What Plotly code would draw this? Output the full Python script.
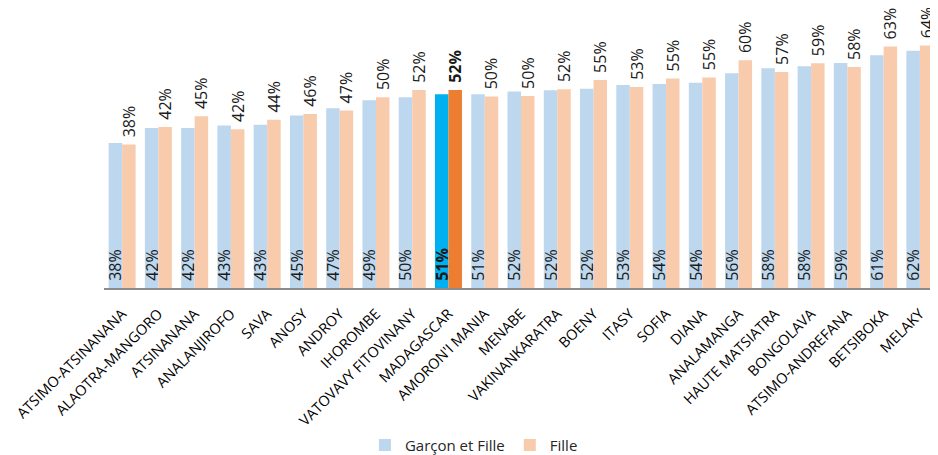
import plotly.graph_objects as go

categories = ["ATSIMO-ATSINANANA", "ALAOTRA-MANGORO", "ATSINANANA", "ANALANJIROFO", "SAVA",
              "ANOSY", "ANDROY", "IHOROMBE", "VATOVAVY FITOVINANY", "MADAGASCAR",
              "AMORON'I MANIA", "MENABE", "VAKINANKARATRA", "BOENY", "ITASY", "SOFIA",
              "DIANA", "ANALAMANGA", "HAUTE MATSIATRA", "BONGOLAVA", "ATSIMO-ANDREFANA",
              "BETSIBOKA", "MELAKY"]
garcon_fille = [38.1, 42.0, 42.0, 42.7, 42.9, 45.3, 47.2, 49.3, 50.1, 50.9,
                50.9, 51.6, 51.9, 52.3, 53.3, 53.6, 53.9, 56.4, 57.7, 58.2, 59.1, 61.1, 62.3]
fille = [37.7, 42.3, 45.1, 41.7, 44.2, 45.7, 46.6, 50.1, 52.0, 52.0,
         50.3, 50.4, 52.2, 54.6, 52.8, 55.0, 55.3, 59.8, 56.7, 59.0, 58.0, 63.4, 63.7]
highlight = "MADAGASCAR"

PAD = "\u00a0"

def labels(vals):
    return [PAD + (f"<b>{v:.0f}%</b>" if c == highlight else f"{v:.0f}%")
            for c, v in zip(categories, vals)]

blue_colors = ["#00B0F0" if c == highlight else "#BDD7EE" for c in categories]
orange_colors = ["#ED7D31" if c == highlight else "#F8CBAD" for c in categories]

FONT = "Open Sans"
fig = go.Figure()
fig.add_trace(go.Bar(
    x=categories, y=garcon_fille, name="Garçon et Fille",
    marker=dict(color=blue_colors, line=dict(width=0)),
    text=labels(garcon_fille), textposition="inside", insidetextanchor="start",
    textangle=-90, constraintext="none",
    textfont=dict(family=FONT, size=16, color="#1a1a1a"),
    cliponaxis=False,
))
fig.add_trace(go.Bar(
    x=categories, y=fille, name="Fille",
    marker=dict(color=orange_colors, line=dict(width=0)),
    text=labels(fille), textposition="outside",
    textangle=-90, constraintext="none",
    textfont=dict(family=FONT, size=16, color="#1a1a1a"),
    cliponaxis=False,
))
fig.update_layout(
    width=930, height=447,
    margin=dict(l=96, r=0, t=2, b=167, autoexpand=False),
    paper_bgcolor="white", plot_bgcolor="white",
    barmode="group", bargap=0.256, bargroupgap=0,
    font=dict(family=FONT, color="#000000"),
    showlegend=True,
    legend=dict(orientation="h", xref="container", yref="container",
                x=0.501, xanchor="center", y=0.022, yanchor="middle",
                font=dict(family=FONT, size=15, color="#262626"), itemwidth=30),
    xaxis=dict(tickangle=-45, tickfont=dict(family=FONT, size=14.5, color="#000000"),
               showline=True, linecolor="#8c8c8c", linewidth=1.5, ticks="",
               ticklabelstandoff=10,
               showgrid=False, automargin=False),
    yaxis=dict(range=[0, 73], visible=False, showgrid=False, automargin=False),
)
fig.write_html("out.html")
